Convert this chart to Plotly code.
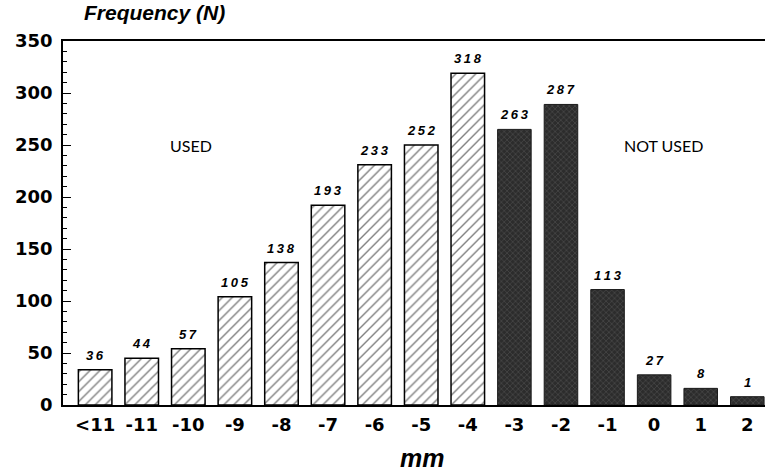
import plotly.graph_objects as go

categories = ["<11", "-11", "-10", "-9", "-8", "-7", "-6", "-5", "-4", "-3", "-2", "-1", "0", "1", "2"]
counts = [36, 44, 57, 105, 138, 193, 233, 252, 318, 263, 287, 113, 27, 8, 1]
bar_heights = [34, 45, 54, 104, 137, 192, 231, 250, 319, 265, 289, 111, 29, 16, 8]
used = [True] * 9 + [False] * 6

FONT = "Liberation Sans, Arial, sans-serif"
TICKFONT = "DejaVu Sans, sans-serif"

fig = go.Figure()
ux = [c for c, u in zip(categories, used) if u]
uy = [h for h, u in zip(bar_heights, used) if u]
nx = [c for c, u in zip(categories, used) if not u]
ny = [h for h, u in zip(bar_heights, used) if not u]

fig.add_trace(go.Bar(
    x=ux, y=uy,
    marker=dict(color="white", line=dict(color="black", width=1.5),
                pattern=dict(shape="/", fgcolor="black", bgcolor="white", size=7, solidity=0.2)),
    width=0.72, showlegend=False,
))
fig.add_trace(go.Bar(
    x=nx, y=ny,
    marker=dict(color="#333333", line=dict(color="#1a1a1a", width=1),
                pattern=dict(shape="x", fgcolor="#777777", bgcolor="#2c2c2c", size=4, solidity=0.25)),
    width=0.72, showlegend=False,
))

annotations = []
for i, (h, n) in enumerate(zip(bar_heights, counts)):
    annotations.append(dict(
        text="\u2009".join(str(n)), x=i, y=h, xref="x", yref="y",
        xanchor="center", yanchor="bottom", yshift=5, showarrow=False,
        font=dict(family=FONT, size=13, color="black", weight="bold", style="italic"),
    ))

annotations += [
    dict(text="Frequency (N)", x=0, y=1, xref="paper", yref="paper",
         xanchor="left", yanchor="bottom", xshift=19, yshift=15, showarrow=False,
         font=dict(family=FONT, size=21, weight="bold", style="italic")),
    dict(text="mm", x=0.512, y=0, xref="paper", yref="paper",
         xanchor="center", yanchor="middle", yshift=-53, showarrow=False,
         font=dict(family=FONT, size=25, weight="bold", style="italic")),
    dict(text="USED", x=2.05, y=250, xref="x", yref="y", xanchor="center", yanchor="middle",
         showarrow=False, font=dict(family="Lato, sans-serif", size=16)),
    dict(text="NOT USED", x=12.2, y=250, xref="x", yref="y", xanchor="center", yanchor="middle",
         showarrow=False, font=dict(family="Lato, sans-serif", size=16)),
]

fig.update_layout(
    width=766, height=475,
    margin=dict(l=63, r=1, t=41, b=70),
    plot_bgcolor="white", paper_bgcolor="white",
    font=dict(family=FONT, color="black"),
    xaxis=dict(
        categoryorder="array", categoryarray=categories,
        range=[-0.69, 14.38],
        showline=True, linecolor="black", linewidth=1.5, mirror=True,
        ticks="", showgrid=False, zeroline=False,
        tickfont=dict(family=TICKFONT, size=18, weight="bold"),
        ticklabelstandoff=3,
    ),
    yaxis=dict(
        range=[0, 350], dtick=50,
        showline=True, linecolor="black", linewidth=1.5,
        ticks="inside", ticklen=8, tickwidth=1.2, tickcolor="black",
        minor=dict(dtick=10, ticks="inside", ticklen=4, tickwidth=1, tickcolor="black"),
        showgrid=False, zeroline=False,
        tickfont=dict(family=TICKFONT, size=18, weight="bold"),
        ticklabelstandoff=5,
    ),
    annotations=annotations,
)

fig.write_html("out.html", config={"displayModeBar": False},
               post_script="document.body.style.margin='0';")
